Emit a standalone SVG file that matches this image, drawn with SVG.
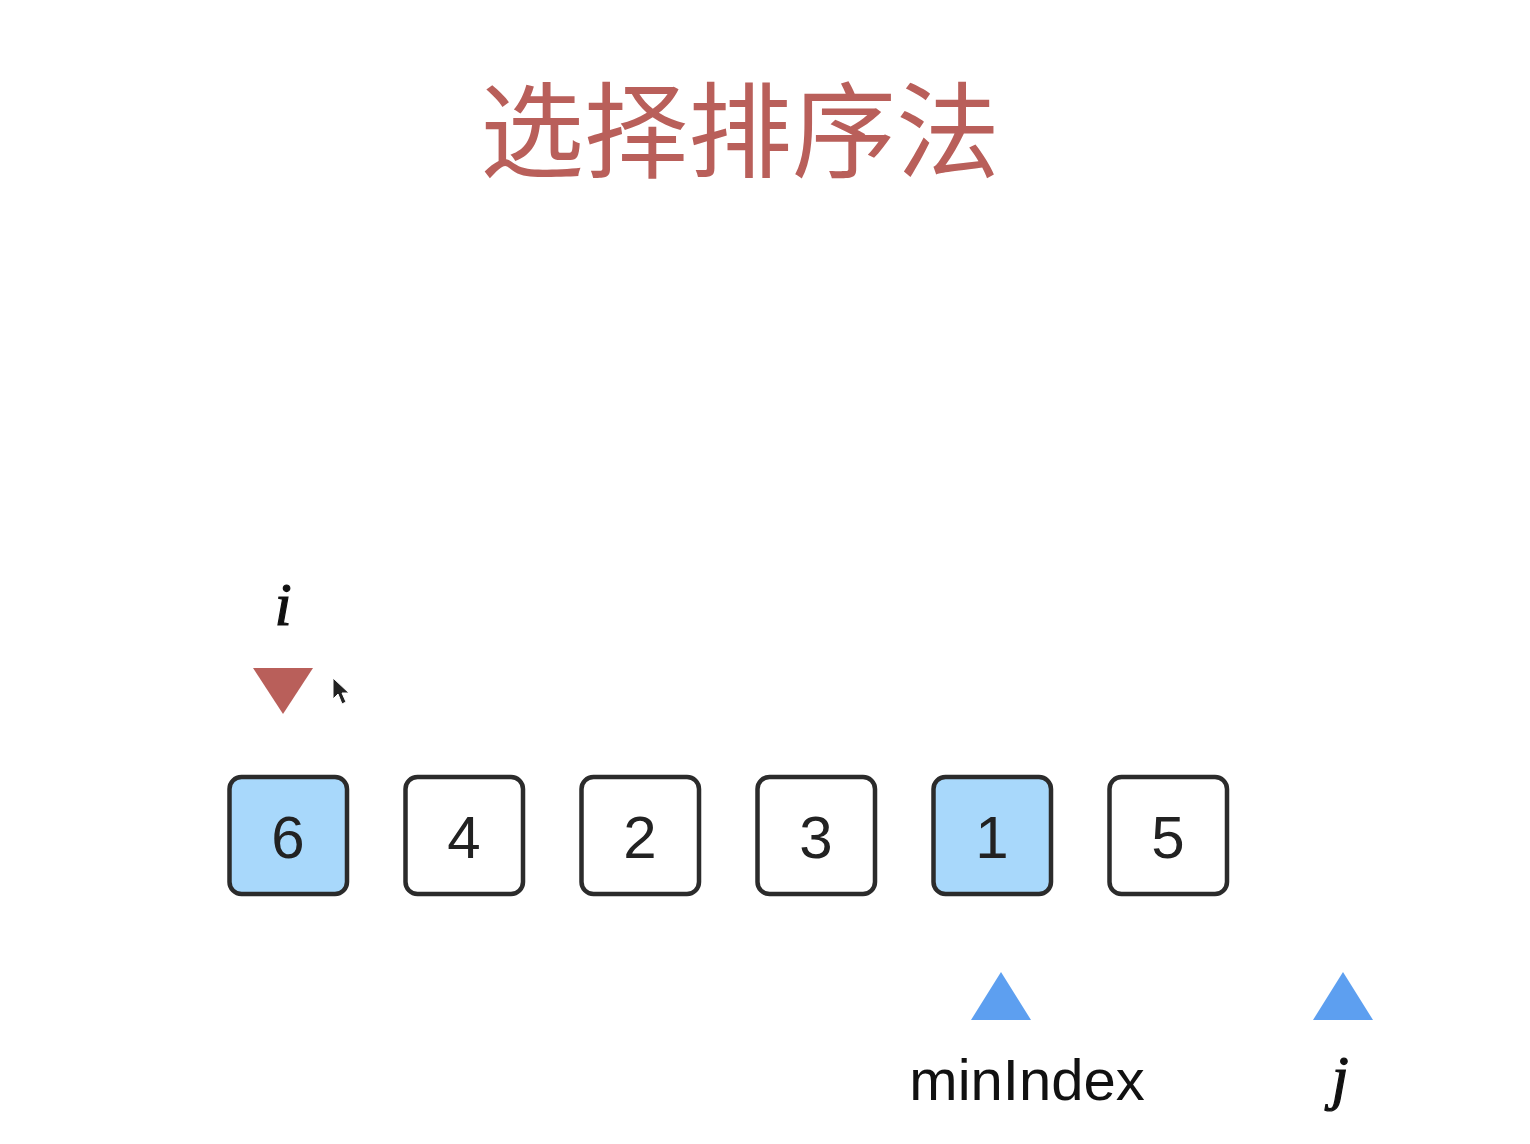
<svg xmlns="http://www.w3.org/2000/svg" width="1530" height="1144" viewBox="0 0 1530 1144">
<style>
.box{fill:#ffffff;stroke:#2b2b2b;stroke-width:4.5}
.hl{fill:#a8d8fb}
.num{font-family:"Liberation Sans",Arial,sans-serif;font-size:60px;fill:#222;text-anchor:middle}
.var{font-family:"Liberation Serif","Times New Roman",serif;font-style:italic;font-size:62px;fill:#111;stroke:#111;stroke-width:1.2;text-anchor:middle}
.lbl{font-family:"Liberation Sans",Arial,sans-serif;font-size:58px;fill:#111;text-anchor:middle}
.title{font-family:"Noto Sans CJK SC","Noto Sans CJK JP",sans-serif;font-size:104px;fill:#b95f5a;text-anchor:middle}
</style>
<rect width="1530" height="1144" fill="#ffffff"/>
<g id="title"><text class="title" x="740" y="170">选择排序法</text></g>
<g id="ptr-i">
<text class="var" x="283" y="625">i</text>
<polygon points="253,668 313,668 283,714" fill="#b95f5a"/>
</g>
<g id="cursor"><path d="M333,678 L333,699 L338,694 L342,704 L346,702 L342,693 L349,693 Z" fill="#222" stroke="#fff" stroke-width="1"/></g>
<g id="box0"><rect class="box hl" x="229.5" y="777" width="117.5" height="117" rx="12"/><text class="num" x="288" y="858">6</text></g>
<g id="box1"><rect class="box" x="405.5" y="777" width="117.5" height="117" rx="12"/><text class="num" x="464" y="858">4</text></g>
<g id="box2"><rect class="box" x="581.5" y="777" width="117.5" height="117" rx="12"/><text class="num" x="640" y="858">2</text></g>
<g id="box3"><rect class="box" x="757.5" y="777" width="117.5" height="117" rx="12"/><text class="num" x="816" y="858">3</text></g>
<g id="box4"><rect class="box hl" x="933.5" y="777" width="117.5" height="117" rx="12"/><text class="num" x="992" y="858">1</text></g>
<g id="box5"><rect class="box" x="1109.5" y="777" width="117.5" height="117" rx="12"/><text class="num" x="1168" y="858">5</text></g>
<g id="ptr-min">
<polygon points="971,1020 1031,1020 1001,972" fill="#5d9ff0"/>
<text class="lbl" x="1027" y="1100">minIndex</text>
</g>
<g id="ptr-j">
<polygon points="1313,1020 1373,1020 1343,972" fill="#5d9ff0"/>
<text class="var" x="1340" y="1098">j</text>
</g>
<g id="connectors"></g>
</svg>
